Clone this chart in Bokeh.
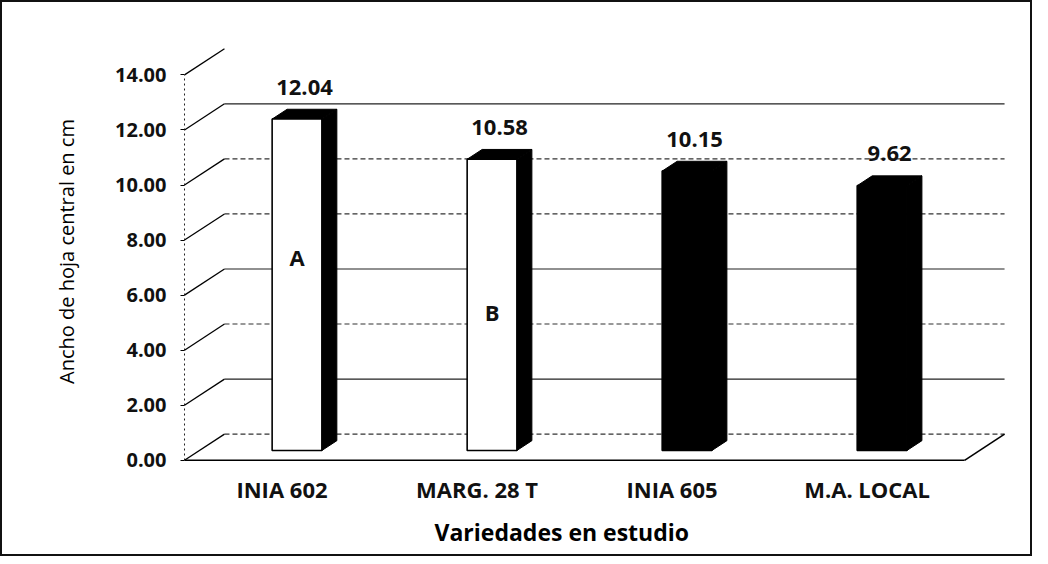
from bokeh.plotting import figure
from bokeh.models import Range1d, FixedTicker, PrintfTickFormatter, Title, ColumnDataSource
from bokeh.core.properties import value
from bokeh.embed import file_html
from bokeh.resources import INLINE

# ---- data ----
categories = ["INIA 602", "MARG. 28 T", "INIA 605", "M.A. LOCAL"]
widths_cm = [12.04, 10.58, 10.15, 9.62]
value_labels = ["12.04", "10.58", "10.15", "9.62"]
letters = ["A", "B"]
y_ticks = [0, 2, 4, 6, 8, 10, 12, 14]

# ---- styling / geometry constants (not data) ----
front_colors = ["white", "white", "black", "black"]
letter_levels = [7.4, 5.4]          # annotation positions inside the bars
DX, DY = 0.205, 0.95                # depth of the 3-D box (x units, value units)
F0, F1 = 0.375, 0.75                # bar depth fractions
W = 0.255                           # bar front width
FONT = "Open Sans"

p = figure(width=1032, height=556,
           x_range=Range1d(0, 4.256), y_range=Range1d(-0.08, 15.25),
           output_backend="svg", toolbar_location=None,
           min_border_left=182, min_border_right=20,
           min_border_top=38, min_border_bottom=96)
p.outline_line_color = None
p.xgrid.visible = False
p.ygrid.visible = False
p.background_fill_color = "white"
p.border_fill_color = "white"
p.styles = {"border": "2px solid #111", "box-sizing": "border-box"}

# ---- y axis ----
ya = p.yaxis[0]
ya.ticker = FixedTicker(ticks=y_ticks)
ya.formatter = PrintfTickFormatter(format="%.2f")
ya.bounds = (0, 14)
ya.axis_line_dash = "2 3"
ya.axis_line_color = "#222"
ya.major_tick_in = 0
ya.major_tick_out = 4
ya.minor_tick_line_color = None
ya.major_label_standoff = 14
ya.major_label_text_font = FONT
ya.major_label_text_font_size = "20px"
ya.major_label_text_font_style = "bold"
ya.major_label_text_color = "#111"
ya.axis_label = "Ancho de hoja central en cm"
ya.axis_label_text_font = FONT
ya.axis_label_text_font_size = "20px"
ya.axis_label_text_font_style = "normal"
ya.axis_label_text_color = "black"
ya.axis_label_standoff = 32

# ---- x axis ----
xa = p.xaxis[0]
xpos = [i + 0.5 for i in range(len(categories))]
xa.ticker = FixedTicker(ticks=xpos)
xa.major_label_overrides = {x: c for x, c in zip(xpos, categories)}
xa.axis_line_color = None
xa.major_tick_line_color = None
xa.minor_tick_line_color = None
xa.major_tick_out = 0
xa.major_label_standoff = 11
xa.major_label_text_font = FONT
xa.major_label_text_font_size = "22px"
xa.major_label_text_font_style = "bold"
xa.major_label_text_color = "#111"

p.add_layout(Title(text="Variedades en estudio", align="left", offset=250,
                   text_font=FONT, text_font_size="23px", text_font_style="bold",
                   text_color="black", standoff=14), "below")

# ---- back wall lines ----
solid_levels = [v for v in y_ticks[:-1] if v in (12, 6, 2)]
dash_levels = [v for v in y_ticks[:-1] if v not in (12, 6, 2)]
n = len(categories)
p.segment(x0=[DX] * len(solid_levels), y0=[v + DY for v in solid_levels],
          x1=[n + DX] * len(solid_levels), y1=[v + DY for v in solid_levels],
          line_color="#222", line_width=1.2)
p.segment(x0=[DX] * len(dash_levels), y0=[v + DY for v in dash_levels],
          x1=[n + DX] * len(dash_levels), y1=[v + DY for v in dash_levels],
          line_color="#333", line_width=1.1, line_dash="5 3")

# diagonal tick extensions
p.segment(x0=[0] * len(y_ticks), y0=y_ticks, x1=[DX] * len(y_ticks),
          y1=[v + DY for v in y_ticks], line_color="black", line_width=1.3)

# floor
p.segment(x0=[0, n], y0=[0, 0], x1=[n, n + DX], y1=[0, DY],
          line_color="black", line_width=1.6)

# ---- bars ----
x0s = [x - W / 2 + F0 * DX for x in xpos]
x1s = [x + W for x in x0s]
b0 = F0 * DY
tops = [b0 + v for v in widths_cm]
bdx = (F1 - F0) * DX
bdy = (F1 - F0) * DY

side_xs = [[a, a + bdx, a + bdx, a] for a in x1s]
side_ys = [[b0, b0 + bdy, t + bdy, t] for t in tops]
top_xs = [[a, a + bdx, c + bdx, c] for a, c in zip(x0s, x1s)]
top_ys = [[t, t + bdy, t + bdy, t] for t in tops]

p.patches(xs=side_xs, ys=side_ys, fill_color="black", line_color="black", line_width=1)
p.patches(xs=top_xs, ys=top_ys, fill_color="black", line_color="black", line_width=1)
p.quad(left=x0s, right=x1s, bottom=[b0] * n, top=tops,
       fill_color=front_colors, line_color="black", line_width=1.6)

# value labels
lab_src = ColumnDataSource(dict(
    x=[(a + c) / 2 + bdx / 2 for a, c in zip(x0s, x1s)],
    y=[t + bdy + 0.8 for t in tops],
    text=value_labels))
p.text(x="x", y="y", text="text", source=lab_src, text_align="center",
       text_baseline="middle", text_font=value(FONT), text_font_size="22px",
       text_font_style="bold", text_color="#111")

# letters inside bars
p.text(x=[(a + c) / 2 for a, c in zip(x0s[:len(letters)], x1s[:len(letters)])],
       y=letter_levels, text=letters, text_align="center", text_baseline="middle",
       text_font=value(FONT), text_font_size="22px", text_font_style="bold",
       text_color="#111")

open("out.html", "w").write(file_html(p, INLINE))
